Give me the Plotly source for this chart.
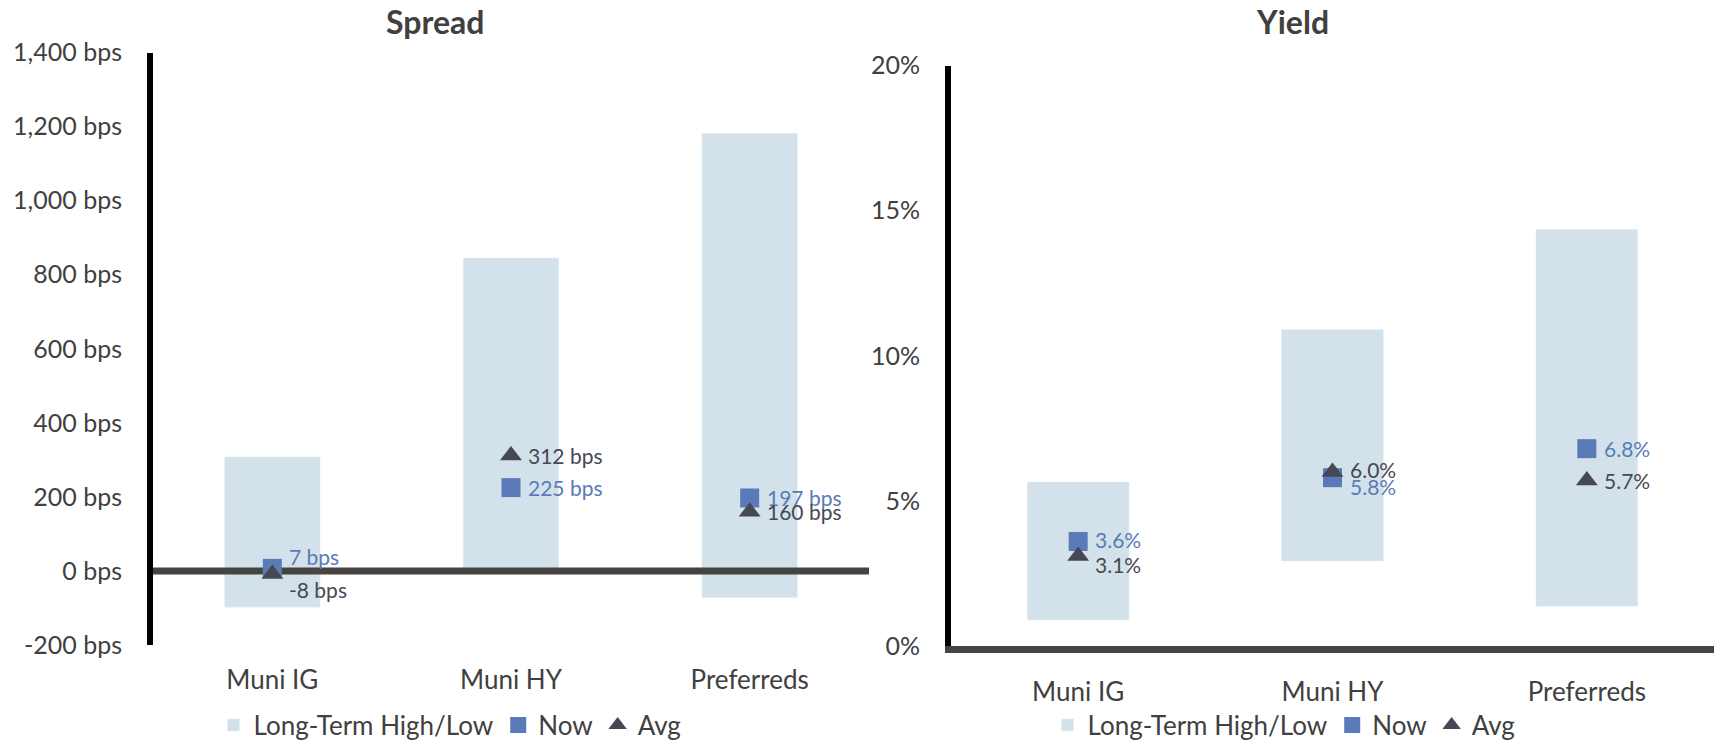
import plotly.graph_objects as go

categories = ["Muni IG", "Muni HY", "Preferreds"]

spread_high = [308, 845, 1181]
spread_low = [-98, 30, -72]
spread_now = [7, 225, 197]
spread_avg = [-8, 312, 160]
spread_ticks = [-200, 0, 200, 400, 600, 800, 1000, 1200, 1400]

yield_high = [5.65, 10.9, 14.35]
yield_low = [0.9, 2.93, 1.37]
yield_now = [3.6, 5.8, 6.8]
yield_avg = [3.1, 6.0, 5.7]
yield_ticks = [0, 5, 10, 15, 20]

BAND = "#d3e2ea"
NOW = "#5a7bb7"
AVG = "#464954"
TEXT = "#404040"
AXIS_DARK = "#454441"
FONT = "Avenir Next, Avenir, Lato, sans-serif"

W, H = 1714, 741

# label nudges (px) so overlapping labels sit like the original
label_shift = {
    ("spread", "now", 0): 12,
    ("spread", "avg", 0): -16,
    ("yield", "now", 0): 2,
    ("yield", "avg", 0): -8,
    ("yield", "now", 1): -9,
    ("yield", "avg", 1): 2,
}

xs = list(range(len(categories)))
fig = go.Figure()

# Spread panel: bars drawn from zero to high and zero to low
fig.add_trace(go.Bar(x=xs, y=spread_high, width=0.4, marker_color=BAND, name="Long-Term High/Low",
                     legend="legend", hoverinfo="skip", xaxis="x", yaxis="y"))
fig.add_trace(go.Bar(x=xs, y=spread_low, width=0.4, marker_color=BAND, showlegend=False,
                     hoverinfo="skip", xaxis="x", yaxis="y"))
fig.add_trace(go.Scatter(x=[-0.5, len(categories) - 0.5], y=[0, 0], mode="lines",
                         line=dict(color=AXIS_DARK, width=7), showlegend=False, hoverinfo="skip",
                         xaxis="x", yaxis="y"))
fig.add_trace(go.Scatter(x=xs, y=spread_now, mode="markers", name="Now", legend="legend",
                         marker=dict(symbol="square", size=19, color=NOW), xaxis="x", yaxis="y"))
fig.add_trace(go.Scatter(x=xs, y=spread_avg, mode="markers", name="Avg", legend="legend",
                         marker=dict(symbol="triangle-up", size=19, color=AVG), xaxis="x", yaxis="y"))

# Yield panel: floating bars from low to high
fig.add_trace(go.Bar(x=xs, y=[h - l for h, l in zip(yield_high, yield_low)], base=yield_low, width=0.4,
                     marker_color=BAND, name="Long-Term High/Low", legend="legend2", hoverinfo="skip",
                     xaxis="x2", yaxis="y2"))
fig.add_trace(go.Scatter(x=xs, y=yield_now, mode="markers", name="Now", legend="legend2",
                         marker=dict(symbol="square", size=19, color=NOW), xaxis="x2", yaxis="y2"))
fig.add_trace(go.Scatter(x=xs, y=yield_avg, mode="markers", name="Avg", legend="legend2",
                         marker=dict(symbol="triangle-up", size=19, color=AVG), xaxis="x2", yaxis="y2"))

annotations = []
panels = [
    ("spread", "x", "y", spread_now, spread_avg, lambda v: f"{v} bps"),
    ("yield", "x2", "y2", yield_now, yield_avg, lambda v: f"{v:.1f}%"),
]
for panel, xr, yr, now, avg, fmt in panels:
    for series, vals, color in (("now", now, NOW), ("avg", avg, AVG)):
        for i, v in enumerate(vals):
            annotations.append(dict(
                x=xs[i], y=v, xref=xr, yref=yr, text=fmt(v), showarrow=False,
                xanchor="left", yanchor="middle", xshift=15,
                yshift=label_shift.get((panel, series, i), 0),
                font=dict(family=FONT, size=21, color=color),
            ))

for title, cx in (("Spread", 435), ("Yield", 1292)):
    annotations.append(dict(
        x=cx / W, y=1 - 22 / H, xref="paper", yref="paper", text=f"<b>{title}</b>",
        showarrow=False, xanchor="center", yanchor="middle",
        font=dict(family=FONT, size=32, color=TEXT),
    ))

cat_axis = dict(
    range=[-0.5, len(categories) - 0.5], tickvals=xs, ticktext=categories,
    showgrid=False, zeroline=False, ticks="", ticklabelstandoff=17, automargin=False,
    tickfont=dict(family=FONT, size=26, color=TEXT),
)
val_axis = dict(
    showgrid=False, zeroline=False, ticks="", showline=True, linecolor="#000000", linewidth=6,
    ticklabelstandoff=20, automargin=False, tickfont=dict(family=FONT, size=25, color=TEXT),
)
legend_style = dict(
    orientation="h", xanchor="center", yanchor="middle", y=1 - 725 / H,
    font=dict(family=FONT, size=26, color=TEXT), bgcolor="rgba(0,0,0,0)",
)

fig.update_layout(
    width=W, height=H,
    margin=dict(l=0, r=0, t=0, b=0, autoexpand=False),
    paper_bgcolor="white", plot_bgcolor="white",
    barmode="overlay", hovermode=False,
    xaxis=dict(cat_axis, domain=[153 / W, 869 / W], anchor="y", showline=False),
    yaxis=dict(val_axis, domain=[1 - 645 / H, 1 - 52.5 / H], anchor="x", range=[-200, 1400],
               tickvals=spread_ticks, ticktext=[f"{v:,} bps" for v in spread_ticks]),
    xaxis2=dict(cat_axis, domain=[951 / W, 1.0], anchor="y2", showline=True,
                linecolor=AXIS_DARK, linewidth=7),
    yaxis2=dict(val_axis, domain=[1 - 646 / H, 1 - 65.6 / H], anchor="x2", range=[0, 20],
                tickvals=yield_ticks, ticktext=[f"{v}%" for v in yield_ticks]),
    legend=dict(legend_style, x=450 / W),
    legend2=dict(legend_style, x=1284 / W),
    annotations=annotations,
    font=dict(family=FONT, color=TEXT),
)

# the page body has a default 8px margin; drop it so the figure fills the window
fig.write_html(
    "out.html",
    config={"displayModeBar": False},
    post_script="document.body.style.margin = '0';",
)
